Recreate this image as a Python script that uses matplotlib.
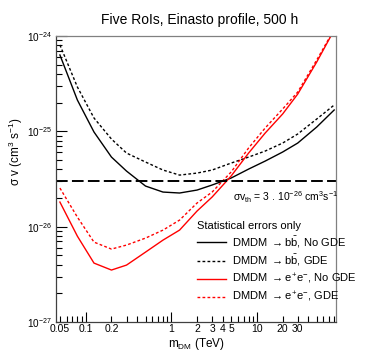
import numpy as np
import matplotlib
matplotlib.use("Agg")
import matplotlib.pyplot as plt
from matplotlib.ticker import FixedLocator, NullFormatter, FixedFormatter

plt.rcParams['font.family'] = ['Liberation Sans', 'DejaVu Sans']
plt.rcParams['mathtext.fontset'] = 'custom'
plt.rcParams['mathtext.rm'] = 'Liberation Sans'
plt.rcParams['mathtext.it'] = 'Liberation Sans'
plt.rcParams['mathtext.bf'] = 'Liberation Sans:bold'

# masses (TeV)
mass = [0.05, 0.08, 0.125, 0.2, 0.3, 0.5, 0.8, 1.25, 2, 3, 5, 8, 12.5, 20, 30, 50, 80]
# log10(sigma v) values
bb_nogde = [-24.199, -24.672, -25.007, -25.270, -25.417, -25.574, -25.637, -25.647,
            -25.616, -25.563, -25.490, -25.396, -25.312, -25.217, -25.123, -24.955, -24.776]
bb_gde = [-24.094, -24.535, -24.860, -25.081, -25.228, -25.322, -25.406, -25.459,
          -25.438, -25.406, -25.333, -25.270, -25.207, -25.123, -25.028, -24.871, -24.724]
ee_nogde = [-25.742, -26.10, -26.382, -26.455, -26.403, -26.267, -26.141, -26.036,
            -25.836, -25.689, -25.469, -25.228, -25.018, -24.818, -24.609, -24.273, -23.937]
ee_gde = [-25.595, -25.90, -26.162, -26.235, -26.193, -26.120, -26.036, -25.931,
          -25.752, -25.637, -25.427, -25.175, -24.965, -24.766, -24.588, -24.252, -23.930]
sv_th = 3e-26

xticks_lab = [0.05, 0.1, 0.2, 1, 2, 3, 4, 5, 10, 20, 30]
xtick_text = ["0.05", "0.1", "0.2", "1", "2", "3", "4", "5", "10", "20", "30"]

W, H = 374, 359
fig = plt.figure(figsize=(W / 100, H / 100), dpi=100)
ax = fig.add_axes([56 / W, (H - 322) / H, (336 - 56) / W, (322 - 36) / H])

m = np.array(mass)
ax.plot(m, 10 ** np.array(bb_nogde), color='black', lw=1.0,
        label=r"DMDM $\rightarrow b\bar{b}$, No GDE")
ax.plot(m, 10 ** np.array(bb_gde), color='black', lw=1.0, ls=(0, (2, 1.6)),
        label=r"DMDM $\rightarrow b\bar{b}$, GDE")
ax.plot(m, 10 ** np.array(ee_nogde), color='#ff0000', lw=1.0,
        label=r"DMDM $\rightarrow e^{+}e^{-}$, No GDE")
ax.plot(m, 10 ** np.array(ee_gde), color='#ff0000', lw=1.0, ls=(0, (2, 1.6)),
        label=r"DMDM $\rightarrow e^{+}e^{-}$, GDE")
ax.axhline(sv_th, color='black', lw=1.4, ls=(0, (6, 2.2)))

ax.set_xscale('log')
ax.set_yscale('log')
ax.set_xlim(0.045, 84)
ax.set_ylim(1e-27, 1e-24)

# x ticks
ax.xaxis.set_major_locator(FixedLocator([0.1, 1, 10]))
ax.xaxis.set_major_formatter(NullFormatter())
minor = []
for d in [0.01, 0.1, 1, 10]:
    for k in range(2, 10):
        v = k * d
        if 0.045 <= v <= 84:
            minor.append(v)
ax.xaxis.set_minor_locator(FixedLocator(minor))
ax.xaxis.set_minor_formatter(NullFormatter())
ax.tick_params(axis='x', which='major', direction='in', length=7, width=0.8, top=False)
ax.tick_params(axis='x', which='minor', direction='in', length=4, width=0.8, top=False)
for xv, tx in zip(xticks_lab, xtick_text):
    ax.text(xv, -0.008, tx, transform=ax.get_xaxis_transform(), ha='center', va='top',
            fontsize=7.5)

# y ticks
ax.yaxis.set_major_locator(FixedLocator([1e-27, 1e-26, 1e-25, 1e-24]))
ax.yaxis.set_major_formatter(FixedFormatter([r"$10^{-27}$", r"$10^{-26}$", r"$10^{-25}$", r"$10^{-24}$"]))
ax.tick_params(axis='y', which='major', direction='in', length=8, width=0.8, right=False,
               labelsize=7.2, pad=3)
ax.tick_params(axis='y', which='minor', direction='in', length=4, width=0.8, right=False)
ax.yaxis.set_minor_formatter(NullFormatter())

for s in ['top', 'right']:
    ax.spines[s].set_color('#808080')
for s in ['left', 'bottom']:
    ax.spines[s].set_color('#404040')
for s in ax.spines.values():
    s.set_linewidth(0.9)

fig.text(200 / W, 1 - 20 / H, "Five RoIs, Einasto profile, 500 h", ha='center', va='center',
         fontsize=10)
fig.text(196 / W, 1 - 344 / H, r"m$_{\rm DM}$ (TeV)", ha='center', va='center', fontsize=8.5)
fig.text(16 / W, 1 - 152 / H, r"$\sigma$ v (cm$^{3}$ s$^{-1}$)", ha='center', va='center',
         fontsize=8.5, rotation=90)
fig.text(233 / W, 1 - 197 / H, r"$\sigma$v$_{\rm th}$ = 3 . 10$^{-26}$ cm$^{3}$s$^{-1}$",
         ha='left', va='center', fontsize=7.5)

leg = ax.legend(loc='upper left', bbox_to_anchor=(188 / W, 1 - 212 / H),
                bbox_transform=fig.transFigure, frameon=False, fontsize=8,
                title="Statistical errors only", title_fontsize=8, alignment='left',
                handlelength=2.6, handletextpad=0.6, labelspacing=0.33, borderpad=0.3)

fig.savefig("out.png", dpi=100)
